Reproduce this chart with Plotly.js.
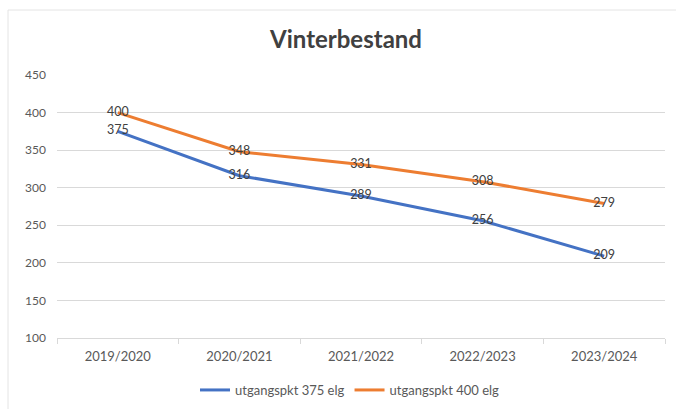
<!DOCTYPE html>
<html>
<head>
<meta charset="utf-8">
<script src="https://cdn.plot.ly/plotly-3.0.1.min.js"></script>
<style>html,body{margin:0;padding:0;background:#fff;}#chart{width:676px;height:409px;}</style>
</head>
<body>
<div id="chart"></div>
<script>
var categories = ["2019/2020", "2020/2021", "2021/2022", "2022/2023", "2023/2024"];
var series375 = [375, 316, 289, 256, 209];
var series400 = [400, 348, 331, 308, 279];
var seriesNames = ["utgangspkt 375 elg", "utgangspkt 400 elg"];
var yTicks = [100, 150, 200, 250, 300, 350, 400, 450];

var FONT = "Lato, 'Liberation Sans', sans-serif";
function mk(vals, name, color) {
  return {
    x: categories, y: vals, name: name, type: "scatter", mode: "lines+text",
    text: vals.map(String), textposition: "middle center",
    textfont: {family: FONT, size: 12.5, color: "#404040"},
    line: {color: color, width: 3},
    cliponaxis: false, hoverinfo: "skip"
  };
}
var data = [mk(series375, seriesNames[0], "#4472C4"), mk(series400, seriesNames[1], "#ED7D31")];

var W = 608, H = 263, L = 57, T = 75;
function px(x){return (x - L)/W;}
function py(y){return (T + H - y)/H;}

var layout = {
  width: 676, height: 409,
  margin: {l: L, r: 11, t: T, b: 71, autoexpand: false},
  paper_bgcolor: "#fff", plot_bgcolor: "#fff",
  font: {family: FONT, size: 12, color: "#595959"},
  title: {text: "<b>Vinterbestand</b>", x: 346/676, xref: "container", xanchor: "center", y: 1 - 40/409, yanchor: "middle",
          font: {family: FONT, size: 24, color: "#404040"}},
  xaxis: {type: "category", range: [-0.5, 4.5], showgrid: false, showline: true, linecolor: "#d9d9d9", linewidth: 1,
          ticks: "outside", tickson: "boundaries", ticklen: 5, tickcolor: "#d9d9d9", zeroline: false,
          ticklabelstandoff: 6,
          tickfont: {family: FONT, size: 13, color: "#595959"}},
  yaxis: {range: [100, 450], tickvals: yTicks, showgrid: true, gridcolor: "#d9d9d9", gridwidth: 1,
          zeroline: false, showline: false, ticks: "", ticklabelstandoff: 10,
          tickfont: {family: FONT, size: 12, color: "#595959"}},
  legend: {orientation: "h", x: px(350), xanchor: "center", y: py(390), yanchor: "middle",
           font: {family: FONT, size: 13, color: "#595959"}, itemwidth: 30, tracegroupgap: 0},
  showlegend: true,
  shapes: [
    {type: "line", xref: "paper", yref: "paper", x0: px(8), x1: px(676), y0: py(10), y1: py(10), line: {color: "#e4e4e4", width: 1}},
    {type: "line", xref: "paper", yref: "paper", x0: px(8), x1: px(8), y0: py(10), y1: py(409), line: {color: "#e4e4e4", width: 1}}
  ]
};
Plotly.newPlot("chart", data, layout, {displayModeBar: false, staticPlot: true});
</script>
</body>
</html>
